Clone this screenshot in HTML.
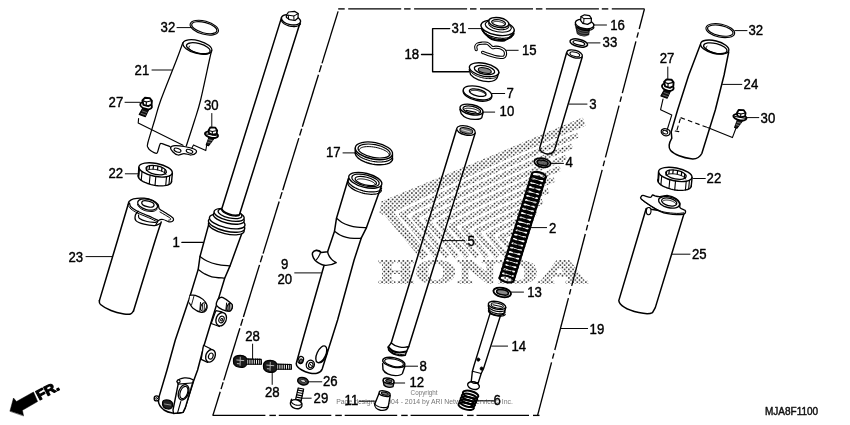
<!DOCTYPE html>
<html><head><meta charset="utf-8"><title>Front fork</title>
<style>
html,body{margin:0;padding:0;background:#fff;}
svg{display:block;will-change:transform;font-family:"Liberation Sans",sans-serif;}
</style></head><body>
<svg width="850" height="425" viewBox="0 0 850 425" fill="none" stroke-linecap="round" stroke-linejoin="round">
<rect x="0" y="0" width="850" height="425" fill="#fff" stroke="none"/>
<text x="410.6" y="395.2" font-size="6.3" fill="#777" stroke="none">Copyright</text>
<text x="336.2" y="403.6" font-size="6.9" fill="#777" stroke="none">Page design © 2004 - 2014 by ARI Network Services, Inc.</text>
<ellipse cx="204.3" cy="27.65" rx="14.6" ry="6.6" transform="rotate(15 204.3 27.65)" stroke="#000" stroke-width="1.12" fill="none" />
<ellipse cx="204.3" cy="27.65" rx="13" ry="5.2" transform="rotate(15 204.3 27.65)" stroke="#000" stroke-width="1.12" fill="none" />
<text transform="translate(160.6 32.1) scale(0.885 1)" font-size="14.9" font-weight="normal" fill="#000" stroke="#000" stroke-width="0.42" text-anchor="start" >32</text>
<line x1="177" y1="27.6" x2="191.5" y2="27.6" stroke="#000" stroke-width="0.98" />
<ellipse cx="197.4" cy="47" rx="14.9" ry="6.4" transform="rotate(15 197.4 47)" stroke="#000" stroke-width="1.25" fill="none" />
<ellipse cx="198.3" cy="48.2" rx="12.2" ry="4.7" transform="rotate(15 198.3 48.2)" stroke="#000" stroke-width="1.25" fill="none" />
<path d="M208.21,53.54 L207.57,53.82 L206.77,54.02 L205.85,54.15 L204.81,54.21 L203.66,54.19 L202.44,54.1 L201.16,53.93 L199.84,53.7 L198.51,53.39 L197.19,53.03 L195.9,52.61 L194.66,52.14 L193.49,51.63 L192.42,51.09 L191.46,50.53 L190.63,49.95 L189.95,49.38 L189.41,48.81 L189.05,48.25 L188.85,47.73 L188.83,47.24 L188.98,46.79 L189.3,46.39 L189.79,46.06" stroke="#000" stroke-width="1" fill="none" />
<path d="M182.9,42.6 C181.83,45.5 180.18,50.43 176.5,60 C172.82,69.57 164.43,90 160.8,100 C157.17,110 156.87,112.83 154.7,120 C152.53,127.17 148.92,138.42 147.8,143 C146.68,147.58 147.55,146.25 148,147.5 C148.45,148.75 149.08,149.52 150.5,150.5 C151.92,151.48 155.22,153.48 156.5,153.4 C157.78,153.32 157.62,151.53 158.2,150 C158.78,148.47 159.37,145.27 160,144.2 C160.63,143.13 160.33,143.2 162,143.6 C163.67,144 168.67,146.1 170,146.6" stroke="#000" stroke-width="1.25" fill="none" />
<path d="M211.6,50.6 C211.23,52.17 211.23,51.77 209.4,60 C207.57,68.23 203.05,90 200.6,100 C198.15,110 197.08,112.33 194.7,120 C192.32,127.67 187.7,141.67 186.3,146" stroke="#000" stroke-width="1.25" fill="none" />
<text transform="translate(134.6 74.7) scale(0.885 1)" font-size="14.9" font-weight="normal" fill="#000" stroke="#000" stroke-width="0.42" text-anchor="start" >21</text>
<line x1="152" y1="70" x2="171.5" y2="70" stroke="#000" stroke-width="0.98" />
<path d="M170.6,147.5 C170.93,146.43 172.77,145.77 175,145.6 C177.23,145.43 180.67,145.85 184,146.5 C187.33,147.15 193,148.45 195,149.5 C197,150.55 196.67,151.88 196,152.8 C195.33,153.72 193,154.88 191,155 C189,155.12 186.17,153.5 184,153.5 C181.83,153.5 179.83,155.25 178,155 C176.17,154.75 174.23,153.25 173,152 C171.77,150.75 170.27,148.57 170.6,147.5 Z" stroke="#000" stroke-width="1.25" fill="none" />
<ellipse cx="177.5" cy="150.2" rx="3.6" ry="1.8" transform="rotate(18 177.5 150.2)" stroke="#000" stroke-width="1.12" fill="none" />
<ellipse cx="189.5" cy="151.3" rx="3.4" ry="1.7" transform="rotate(18 189.5 151.3)" stroke="#000" stroke-width="1.12" fill="none" />
<g transform="translate(146 103)"><path d="M-2.8,4.2 L3,6 L-0.6,13.6 L-6.8,11.4 Z" stroke="#000" stroke-width="1.12" fill="#111" /><line x1="-3.6" y1="8" x2="1" y2="9.6" stroke="#999" stroke-width="0.62" /><line x1="-4.8" y1="10.4" x2="-0.2" y2="12" stroke="#999" stroke-width="0.62" /><ellipse cx="0.1" cy="2.6" rx="6" ry="3.3" transform="rotate(16 0.1 2.6)" stroke="#000" stroke-width="1.88" fill="#fff" /><path d="M-3.6,-2.6 L-1.2,-5.2 L3.8,-4.9 L5.9,-2.2 L5.6,1.6 L2.2,3.2 L-2.6,1.8 Z" stroke="#000" stroke-width="1.88" fill="#fff" /><path d="M-3.4,-2.4 L0.4,-1 L5.6,-2.2" stroke="#000" stroke-width="1.12" fill="none" /><line x1="0.4" y1="-1" x2="0.2" y2="2.6" stroke="#000" stroke-width="1.12" /></g>
<text transform="translate(108.6 107) scale(0.885 1)" font-size="14.9" font-weight="normal" fill="#000" stroke="#000" stroke-width="0.42" text-anchor="start" >27</text>
<line x1="125" y1="102.3" x2="140" y2="102.3" stroke="#000" stroke-width="0.98" />
<path d="M138.6,118.6 L138.2,123 L183,145.3" stroke="#000" stroke-width="1.12" fill="none" />
<g transform="translate(211.8 132.3)"><path d="M-2.6,4.6 L2.2,6 L-3.2,13.4 L-5.6,12.6 Z" stroke="#000" stroke-width="1.12" fill="#222" /><line x1="-3.2" y1="7.4" x2="0.6" y2="8.4" stroke="#aaa" stroke-width="0.62" /><line x1="-4.2" y1="9.8" x2="-1" y2="10.8" stroke="#aaa" stroke-width="0.62" /><ellipse cx="-0.3" cy="2.4" rx="6.7" ry="3.1" transform="rotate(12 -0.3 2.4)" stroke="#000" stroke-width="1.88" fill="#fff" /><line x1="-5.6" y1="1.6" x2="5.4" y2="3.6" stroke="#000" stroke-width="1" /><path d="M-3.2,-2 L-1.4,-5 L3.6,-4.6 L5.4,-1.8 L4.8,1.6 L1,2.4 L-2.8,1 Z" stroke="#000" stroke-width="1.75" fill="#fff" /><path d="M-3,-1.8 L0.6,-0.8 L5.2,-1.8" stroke="#000" stroke-width="1.12" fill="none" /><line x1="0.6" y1="-0.8" x2="0.4" y2="2.2" stroke="#000" stroke-width="1.12" /></g>
<text transform="translate(204 109.5) scale(0.885 1)" font-size="14.9" font-weight="normal" fill="#000" stroke="#000" stroke-width="0.42" text-anchor="start" >30</text>
<line x1="211.8" y1="113.5" x2="211.8" y2="126.5" stroke="#000" stroke-width="0.98" />
<path d="M206.6,145.5 L205.8,150.6 L193.5,144.9 L191.8,148.2" stroke="#000" stroke-width="1.06" fill="none" />
<g transform="translate(155.6 169.9)"><path d="M15.93,11.48 L15.8,12.36 L15.36,13.19 L14.6,13.92 L13.56,14.56 L12.24,15.09 L10.67,15.5 L8.88,15.78 L6.91,15.93 L4.79,15.95 L2.56,15.82 L0.27,15.57 L-2.04,15.18 L-4.33,14.67 L-6.55,14.05 L-8.66,13.33 L-10.62,12.53 L-12.39,11.65 L-13.94,10.72 L-15.24,9.75 L-16.27,8.76 L-17,7.78 L-17.42,6.81 L-17.53,5.89 L-17.32,5.01" stroke="#000" stroke-width="1.38" fill="none" /><line x1="-16.8" y1="-2.4" x2="-17.3" y2="6.2" stroke="#000" stroke-width="1.38" /><line x1="16.8" y1="3.2" x2="15.9" y2="12" stroke="#000" stroke-width="1.38" /><ellipse cx="0" cy="0" rx="17" ry="6.5" transform="rotate(11 0 0)" stroke="#000" stroke-width="1.38" fill="none" /><ellipse cx="0.6" cy="0.2" rx="10.4" ry="4.4" transform="rotate(11 0.6 0.2)" stroke="#000" stroke-width="1.25" fill="none" /><line x1="-16.11" y1="-0.87" x2="-16.91" y2="7.93" stroke="#000" stroke-width="1.12" /><line x1="-13.58" y1="1.62" x2="-14.38" y2="10.42" stroke="#000" stroke-width="1.12" /><line x1="-5.52" y1="5.32" x2="-6.32" y2="14.12" stroke="#000" stroke-width="1.12" /><line x1="0.22" y1="6.64" x2="-0.58" y2="15.44" stroke="#000" stroke-width="1.12" /><line x1="10.92" y1="6.81" x2="10.12" y2="15.61" stroke="#000" stroke-width="1.12" /><line x1="14.15" y1="5.86" x2="13.35" y2="14.66" stroke="#000" stroke-width="1.12" /><line x1="-8.71" y1="-2.84" x2="-9.11" y2="0.46" stroke="#000" stroke-width="1.25" /><line x1="-6.03" y1="-3.96" x2="-6.43" y2="-0.66" stroke="#000" stroke-width="1.25" /><line x1="-2.1" y1="-4.24" x2="-2.5" y2="-0.94" stroke="#000" stroke-width="1.25" /><line x1="2.33" y1="-3.63" x2="1.93" y2="-0.33" stroke="#000" stroke-width="1.25" /><line x1="6.43" y1="-2.25" x2="6.03" y2="1.05" stroke="#000" stroke-width="1.25" /><line x1="9.44" y1="-0.35" x2="9.04" y2="2.95" stroke="#000" stroke-width="1.25" /><path d="M-8.95,0.91 L-8.61,0.56 L-8.14,0.25 L-7.56,-0.02 L-6.86,-0.24 L-6.07,-0.41 L-5.18,-0.53 L-4.22,-0.6 L-3.19,-0.61 L-2.11,-0.57 L-1,-0.48 L0.14,-0.33 L1.29,-0.13 L2.42,0.11 L3.53,0.4 L4.6,0.73 L5.62,1.1 L6.57,1.5 L7.44,1.92 L8.21,2.36 L8.88,2.82 L9.44,3.29 L9.89,3.75 L10.2,4.21 L10.39,4.67" stroke="#000" stroke-width="1" fill="none" /></g>
<text transform="translate(108.4 178) scale(0.885 1)" font-size="14.9" font-weight="normal" fill="#000" stroke="#000" stroke-width="0.42" text-anchor="start" >22</text>
<line x1="125.3" y1="173.8" x2="138.8" y2="173.8" stroke="#000" stroke-width="0.98" />
<path d="M128.2,204.3 C126.43,210.25 122.4,223.95 117.6,240 C112.8,256.05 102.43,290.5 99.4,300.6" stroke="#000" stroke-width="1.5" fill="none" />
<path d="M161.2,222 C160.22,225 159.92,225.17 155.3,240 C150.68,254.83 137.13,299.17 133.5,311" stroke="#000" stroke-width="1.5" fill="none" />
<path d="M99.4,300.6 C99.58,301.25 98.57,302.85 100.5,304.5 C102.43,306.15 107.08,308.92 111,310.5 C114.92,312.08 120.75,313.42 124,314 C127.25,314.58 128.92,314.5 130.5,314 C132.08,313.5 133,311.5 133.5,311" stroke="#000" stroke-width="1.5" fill="none" />
<path d="M128.2,204.5 C128.33,204 128.12,202.45 129,201.5 C129.88,200.55 130.98,199.35 133.5,198.8 C136.02,198.25 140.85,197.92 144.1,198.2 C147.35,198.48 150.68,199.45 153,200.5 C155.32,201.55 156.93,203.12 158,204.5 C159.07,205.88 158.23,207.47 159.4,208.8 C160.57,210.13 163.03,211.22 165,212.5 C166.97,213.78 169.78,215.45 171.2,216.5 C172.62,217.55 173.28,218 173.5,218.8 C173.72,219.6 173.25,220.8 172.5,221.3 C171.75,221.8 170.58,222.1 169,221.8 C167.42,221.5 164.75,219.72 163,219.5 C161.25,219.28 159.67,219.67 158.5,220.5 C157.33,221.33 156.42,223.83 156,224.5" stroke="#000" stroke-width="1.25" fill="none" />
<path d="M129.5,203 C129.75,203.67 129.75,205.67 131,207 C132.25,208.33 134.67,209.75 137,211 C139.33,212.25 142.5,213.42 145,214.5 C147.5,215.58 149.83,216.5 152,217.5 C154.17,218.5 157,220 158,220.5" stroke="#000" stroke-width="1.25" fill="none" />
<path d="M128.6,206 C129,206.5 129.6,207.87 131,209 C132.4,210.13 134.67,211.6 137,212.8 C139.33,214 142.5,215.13 145,216.2 C147.5,217.27 149.92,218.23 152,219.2 C154.08,220.17 156.58,221.53 157.5,222" stroke="#000" stroke-width="1" fill="none" />
<path d="M160,212 C160.92,212.53 163.83,214.2 165.5,215.2 C167.17,216.2 169.15,217.27 170,218 C170.85,218.73 170.83,219.23 170.6,219.6 C170.37,219.97 168.93,220.1 168.6,220.2" stroke="#000" stroke-width="1" fill="none" />
<ellipse cx="147.6" cy="204.5" rx="10.2" ry="5.2" transform="rotate(14 147.6 204.5)" stroke="#000" stroke-width="1.25" fill="none" />
<path d="M157.13,209.21 L156.72,209.71 L156.19,210.16 L155.54,210.56 L154.79,210.89 L153.94,211.16 L153,211.35 L151.99,211.47 L150.92,211.52 L149.8,211.49 L148.66,211.38 L147.5,211.2 L146.34,210.95 L145.2,210.62 L144.09,210.24 L143.03,209.8 L142.03,209.3 L141.11,208.76 L140.27,208.18 L139.54,207.57 L138.91,206.93 L138.4,206.29 L138.01,205.63 L137.76,204.98 L137.63,204.35" stroke="#000" stroke-width="1" fill="none" />
<ellipse cx="147.9" cy="203.9" rx="6.3" ry="2.9" transform="rotate(14 147.9 203.9)" stroke="#000" stroke-width="1.25" fill="none" />
<path d="M138.2,211.2 C137.72,211.88 135.68,213.73 135.3,215.3 C134.92,216.87 134.45,219.12 135.9,220.6 C137.35,222.08 140.87,223.37 144,224.2 C147.13,225.03 152.03,225.72 154.7,225.6 C157.37,225.48 159.12,223.85 160,223.5" stroke="#000" stroke-width="1.25" fill="none" />
<path d="M138.5,215 C138.67,215.58 138.08,217.42 139.5,218.5 C140.92,219.58 144.25,220.83 147,221.5 C149.75,222.17 154.5,222.33 156,222.5" stroke="#000" stroke-width="1.12" fill="none" />
<text transform="translate(68.5 261.9) scale(0.885 1)" font-size="14.9" font-weight="normal" fill="#000" stroke="#000" stroke-width="0.42" text-anchor="start" >23</text>
<line x1="86" y1="256.6" x2="112.3" y2="256.6" stroke="#000" stroke-width="0.98" />
<path d="M10,410.9 L13.5,398 L16.5,401.5 L33.5,392 L37.6,401.5 L22.4,410.3 L23.5,415.6 Z" stroke="#000" stroke-width="0.5" fill="#000" />
<text transform="translate(39.2 400.4) rotate(-28) scale(1.06 1)" font-size="14" font-weight="bold" fill="#000" stroke="#000" stroke-width="1.1">FR.</text>
<text transform="translate(765.0 414.8) scale(0.945 1)" font-size="10.6" fill="#111" stroke="#111" stroke-width="0.45">MJA8F1100</text>
<line x1="338.2" y1="8.9" x2="344.7" y2="8.9" stroke="#000" stroke-width="1.35" stroke-linecap="butt"/><line x1="348.2" y1="8.9" x2="401.2" y2="8.9" stroke="#000" stroke-width="1.35" stroke-linecap="butt"/><line x1="404.1" y1="8.9" x2="410.6" y2="8.9" stroke="#000" stroke-width="1.35" stroke-linecap="butt"/><line x1="414.1" y1="8.9" x2="467.1" y2="8.9" stroke="#000" stroke-width="1.35" stroke-linecap="butt"/><line x1="470" y1="8.9" x2="476.5" y2="8.9" stroke="#000" stroke-width="1.35" stroke-linecap="butt"/><line x1="480" y1="8.9" x2="533" y2="8.9" stroke="#000" stroke-width="1.35" stroke-linecap="butt"/><line x1="535.9" y1="8.9" x2="542.4" y2="8.9" stroke="#000" stroke-width="1.35" stroke-linecap="butt"/><line x1="545.9" y1="8.9" x2="598.9" y2="8.9" stroke="#000" stroke-width="1.35" stroke-linecap="butt"/><line x1="601.8" y1="8.9" x2="608.3" y2="8.9" stroke="#000" stroke-width="1.35" stroke-linecap="butt"/><line x1="611.8" y1="8.9" x2="644.6" y2="8.9" stroke="#000" stroke-width="1.35" stroke-linecap="butt"/>
<line x1="338.1" y1="11.4" x2="321.99" y2="63.4" stroke="#000" stroke-width="1.35" stroke-linecap="butt"/><line x1="321.4" y1="65.3" x2="319.29" y2="72.1" stroke="#000" stroke-width="1.35" stroke-linecap="butt"/><line x1="318.48" y1="74.7" x2="302.34" y2="126.8" stroke="#000" stroke-width="1.35" stroke-linecap="butt"/><line x1="301.75" y1="128.7" x2="299.64" y2="135.5" stroke="#000" stroke-width="1.35" stroke-linecap="butt"/><line x1="298.84" y1="138.1" x2="282.69" y2="190.2" stroke="#000" stroke-width="1.35" stroke-linecap="butt"/><line x1="282.1" y1="192.1" x2="279.99" y2="198.9" stroke="#000" stroke-width="1.35" stroke-linecap="butt"/><line x1="279.19" y1="201.5" x2="263.04" y2="253.6" stroke="#000" stroke-width="1.35" stroke-linecap="butt"/><line x1="262.45" y1="255.5" x2="260.35" y2="262.3" stroke="#000" stroke-width="1.35" stroke-linecap="butt"/><line x1="259.54" y1="264.9" x2="243.39" y2="317" stroke="#000" stroke-width="1.35" stroke-linecap="butt"/><line x1="242.81" y1="318.9" x2="240.7" y2="325.7" stroke="#000" stroke-width="1.35" stroke-linecap="butt"/><line x1="239.89" y1="328.3" x2="223.75" y2="380.4" stroke="#000" stroke-width="1.35" stroke-linecap="butt"/><line x1="223.16" y1="382.3" x2="221.05" y2="389.1" stroke="#000" stroke-width="1.35" stroke-linecap="butt"/><line x1="220.24" y1="391.7" x2="212.9" y2="415.4" stroke="#000" stroke-width="1.35" stroke-linecap="butt"/>
<line x1="212.6" y1="415.4" x2="265.4" y2="415.4" stroke="#000" stroke-width="1.35" stroke-linecap="butt"/><line x1="269.4" y1="415.4" x2="275.9" y2="415.4" stroke="#000" stroke-width="1.35" stroke-linecap="butt"/><line x1="278.8" y1="415.4" x2="331.3" y2="415.4" stroke="#000" stroke-width="1.35" stroke-linecap="butt"/><line x1="335.3" y1="415.4" x2="341.8" y2="415.4" stroke="#000" stroke-width="1.35" stroke-linecap="butt"/><line x1="344.7" y1="415.4" x2="397.2" y2="415.4" stroke="#000" stroke-width="1.35" stroke-linecap="butt"/><line x1="401.2" y1="415.4" x2="407.7" y2="415.4" stroke="#000" stroke-width="1.35" stroke-linecap="butt"/><line x1="410.6" y1="415.4" x2="463.1" y2="415.4" stroke="#000" stroke-width="1.35" stroke-linecap="butt"/><line x1="467.1" y1="415.4" x2="473.6" y2="415.4" stroke="#000" stroke-width="1.35" stroke-linecap="butt"/><line x1="476.5" y1="415.4" x2="529" y2="415.4" stroke="#000" stroke-width="1.35" stroke-linecap="butt"/><line x1="533" y1="415.4" x2="539.5" y2="415.4" stroke="#000" stroke-width="1.35" stroke-linecap="butt"/>
<line x1="644.4" y1="9.2" x2="639.19" y2="29" stroke="#000" stroke-width="1.35" stroke-linecap="butt"/><line x1="638.33" y1="32.3" x2="636.91" y2="37.7" stroke="#000" stroke-width="1.35" stroke-linecap="butt"/><line x1="635.93" y1="41.4" x2="622.31" y2="93.2" stroke="#000" stroke-width="1.35" stroke-linecap="butt"/><line x1="621.45" y1="96.5" x2="620.03" y2="101.9" stroke="#000" stroke-width="1.35" stroke-linecap="butt"/><line x1="619.05" y1="105.6" x2="605.43" y2="157.4" stroke="#000" stroke-width="1.35" stroke-linecap="butt"/><line x1="604.57" y1="160.7" x2="603.15" y2="166.1" stroke="#000" stroke-width="1.35" stroke-linecap="butt"/><line x1="602.17" y1="169.8" x2="588.55" y2="221.6" stroke="#000" stroke-width="1.35" stroke-linecap="butt"/><line x1="587.69" y1="224.9" x2="586.27" y2="230.3" stroke="#000" stroke-width="1.35" stroke-linecap="butt"/><line x1="585.29" y1="234" x2="571.68" y2="285.8" stroke="#000" stroke-width="1.35" stroke-linecap="butt"/><line x1="570.81" y1="289.1" x2="569.39" y2="294.5" stroke="#000" stroke-width="1.35" stroke-linecap="butt"/><line x1="568.41" y1="298.2" x2="554.8" y2="350" stroke="#000" stroke-width="1.35" stroke-linecap="butt"/><line x1="553.93" y1="353.3" x2="552.51" y2="358.7" stroke="#000" stroke-width="1.35" stroke-linecap="butt"/><line x1="551.54" y1="362.4" x2="537.6" y2="415.4" stroke="#000" stroke-width="1.35" stroke-linecap="butt"/>
<path d="M208.8,224.1 L200,256.5 L198.2,269.4 L188.8,300 L175.3,340 L167,370 L158.8,397.6 C157.5,402 159,406 164,410 C168,412.5 176,414.6 183,412.4 L185.3,407.6 L193.5,381.2 L197.6,370 L204.1,345.3 L211.8,320 L218.8,297.6 L224.7,278.2 L230,265.9 L241.8,233.5 Z" stroke="#000" stroke-width="1.5" fill="#fff" />
<path d="M200,256.5 C201.17,257.25 204.17,259.7 207,261 C209.83,262.3 213.17,263.48 217,264.3 C220.83,265.12 227.83,265.63 230,265.9" stroke="#000" stroke-width="1.25" fill="none" />
<path d="M198.2,269.4 C199.17,270.08 201.73,272.27 204,273.5 C206.27,274.73 208.38,276.02 211.8,276.8 C215.22,277.58 222.38,277.97 224.5,278.2" stroke="#000" stroke-width="1.25" fill="none" />
<ellipse cx="226.3" cy="227.2" rx="18.3" ry="6.6" transform="rotate(13 226.3 227.2)" stroke="#000" stroke-width="1.38" fill="#fff" />
<ellipse cx="226.6" cy="224.6" rx="18.6" ry="6.6" transform="rotate(13 226.6 224.6)" stroke="#000" stroke-width="1.38" fill="#fff" />
<ellipse cx="227.2" cy="221.4" rx="18.2" ry="6.4" transform="rotate(13 227.2 221.4)" stroke="#000" stroke-width="1.38" fill="#fff" />
<ellipse cx="228.8" cy="217.6" rx="15.8" ry="5.8" transform="rotate(13 228.8 217.6)" stroke="#000" stroke-width="1.38" fill="#fff" />
<ellipse cx="229.1" cy="214.9" rx="15.4" ry="5.6" transform="rotate(13 229.1 214.9)" stroke="#000" stroke-width="1.38" fill="#fff" />
<ellipse cx="230" cy="213.6" rx="12.2" ry="4.4" transform="rotate(13 230 213.6)" stroke="#000" stroke-width="1.25" fill="#fff" />
<path d="M281.5,17.6 L221.8,208.8 C224,213 233,216.5 239.4,214.7 L300,22.9 Z" stroke="#000" stroke-width="1.5" fill="#fff" />
<path d="M239.49,214.62 L239.29,215.01 L238.94,215.34 L238.45,215.62 L237.82,215.83 L237.07,215.98 L236.21,216.05 L235.25,216.06 L234.21,215.99 L233.11,215.86 L231.97,215.65 L230.8,215.38 L229.64,215.06 L228.48,214.67 L227.37,214.24 L226.31,213.78 L225.32,213.27 L224.42,212.75 L223.63,212.21 L222.96,211.66 L222.42,211.12 L222.01,210.6 L221.76,210.09 L221.66,209.62 L221.71,209.18" stroke="#000" stroke-width="1.25" fill="none" />
<ellipse cx="291" cy="19.8" rx="9.8" ry="4.9" transform="rotate(12.5 291 19.8)" stroke="#000" stroke-width="1.38" fill="#fff" />
<path d="M300.44,23.83 L300.13,24.38 L299.69,24.87 L299.11,25.32 L298.41,25.7 L297.6,26.02 L296.68,26.26 L295.68,26.43 L294.61,26.52 L293.48,26.53 L292.31,26.46 L291.13,26.31 L289.94,26.08 L288.77,25.79 L287.63,25.42 L286.54,24.99 L285.53,24.5 L284.59,23.97 L283.75,23.39 L283.03,22.79 L282.42,22.16 L281.95,21.51 L281.61,20.87 L281.42,20.23 L281.38,19.6" stroke="#000" stroke-width="1.25" fill="none" />
<path d="M286.2,15.5 L288.5,12 L294.5,11.3 L298.2,13.6 L298,18 L295,20.5 L289.5,19.6 L286.5,17.6 Z" stroke="#000" stroke-width="1.25" fill="#fff" />
<path d="M288.3,15.2 L293.8,16 L298,13.8" stroke="#000" stroke-width="1" fill="none" />
<line x1="293.8" y1="16" x2="294" y2="20.2" stroke="#000" stroke-width="1" />
<path d="M286.4,15.6 L288.3,15.2 L288.6,19.4" stroke="#000" stroke-width="1" fill="none" />
<path d="M190,295.3 C190.88,295.3 193.13,294.62 195.3,295.3 C197.47,295.98 201.05,297.73 203,299.4 C204.95,301.07 206.52,303.43 207,305.3 C207.48,307.17 206.87,309.42 205.9,310.6 C204.93,311.78 203.35,312.8 201.2,312.4 C199.05,312 194.97,309.77 193,308.2 C191.03,306.63 190,303.87 189.4,303" stroke="#000" stroke-width="1.25" fill="#fff" />
<ellipse cx="203.6" cy="307" rx="2.8" ry="4.3" transform="rotate(20 203.6 307)" stroke="#000" stroke-width="1" fill="#fff" />
<line x1="202.6" y1="304.5" x2="202.2" y2="309.8" stroke="#000" stroke-width="0.88" />
<line x1="204.4" y1="304.2" x2="204.2" y2="310" stroke="#000" stroke-width="0.88" />
<line x1="200.5" y1="302.5" x2="199.8" y2="311.3" stroke="#000" stroke-width="1" />
<line x1="194" y1="296" x2="191.5" y2="305" stroke="#000" stroke-width="0.88" />
<path d="M217.6,300 C218.13,298.92 218.6,298.4 219.5,298 C220.4,297.6 221.15,296.77 223,297.6 C224.85,298.43 229.03,301.52 230.6,303 C232.17,304.48 232.4,305.23 232.4,306.5 C232.4,307.77 231.68,309.88 230.6,310.6 C229.52,311.32 227.87,311.3 225.9,310.8 C223.93,310.3 220.4,308.65 218.8,307.6 C217.2,306.55 216.5,305.77 216.3,304.5 C216.1,303.23 217.07,301.08 217.6,300 Z" stroke="#000" stroke-width="1.38" fill="#fff" />
<ellipse cx="229.6" cy="307.2" rx="2.6" ry="4" transform="rotate(20 229.6 307.2)" stroke="#000" stroke-width="1.12" fill="#999" />
<line x1="229.4" y1="304.4" x2="229" y2="310" stroke="#000" stroke-width="1" />
<line x1="226.6" y1="303" x2="225.8" y2="310.6" stroke="#000" stroke-width="1" />
<path d="M215.9,310.6 L221.8,311.8 L219.4,326.5 L211.2,323.5 Z" stroke="#000" stroke-width="1.25" fill="#fff" />
<ellipse cx="221.2" cy="319.2" rx="5" ry="6.9" transform="rotate(22 221.2 319.2)" stroke="#000" stroke-width="1.38" fill="#fff" />
<ellipse cx="221.5" cy="319.5" rx="2.5" ry="3.4" transform="rotate(22 221.5 319.5)" stroke="#000" stroke-width="1.12" fill="none" />
<ellipse cx="221.6" cy="319.7" rx="0.9" ry="1.3" transform="rotate(22 221.6 319.7)" stroke="#000" stroke-width="1" fill="none" />
<path d="M203.5,345.3 L210.6,348.8 L207.6,362.4 L201.2,359.4 Z" stroke="#000" stroke-width="1.25" fill="#fff" />
<ellipse cx="210.5" cy="355.8" rx="4.6" ry="6.5" transform="rotate(22 210.5 355.8)" stroke="#000" stroke-width="1.38" fill="#fff" />
<ellipse cx="210.8" cy="356.1" rx="2.2" ry="3.1" transform="rotate(22 210.8 356.1)" stroke="#000" stroke-width="1.12" fill="none" />
<path d="M177,381.5 C180,377.5 188,376.5 193.5,380 L185.3,407.6 L183,412.4 L173.5,413.5 L173,410 L178.2,384 Z" stroke="#000" stroke-width="1.38" fill="#fff" />
<path d="M178.2,384.2 L191.5,383" stroke="#000" stroke-width="1.25" fill="none" />
<path d="M180.8,401.5 L177.6,412.6" stroke="#000" stroke-width="1.12" fill="none" />
<ellipse cx="183.6" cy="392.3" rx="4.9" ry="8" transform="rotate(20 183.6 392.3)" stroke="#000" stroke-width="1.38" fill="#fff" />
<ellipse cx="183.9" cy="392.5" rx="3.6" ry="6.4" transform="rotate(20 183.9 392.5)" stroke="#000" stroke-width="1.12" fill="none" />
<ellipse cx="178.6" cy="381.4" rx="1.5" ry="1.5" transform="rotate(0 178.6 381.4)" stroke="#000" stroke-width="1.12" fill="#fff" />
<ellipse cx="156.6" cy="398.4" rx="2.4" ry="2.5" transform="rotate(0 156.6 398.4)" stroke="#000" stroke-width="1.38" fill="#fff" />
<ellipse cx="156.6" cy="398.4" rx="0.9" ry="0.9" transform="rotate(0 156.6 398.4)" stroke="#000" stroke-width="0.88" fill="none" />
<path d="M162.6,402 C162.83,400.83 163.77,400.23 165,400 C166.23,399.77 168.73,400.02 170,400.6 C171.27,401.18 172.33,402.3 172.6,403.5 C172.87,404.7 172.37,406.88 171.6,407.8 C170.83,408.72 169.33,409.13 168,409 C166.67,408.87 164.5,408.17 163.6,407 C162.7,405.83 162.37,403.17 162.6,402 Z" stroke="#000" stroke-width="1.25" fill="#222" />
<line x1="164.5" y1="404" x2="170.5" y2="405" stroke="#bbb" stroke-width="0.75" />
<text transform="translate(172.6 246.5) scale(0.885 1)" font-size="14.9" font-weight="normal" fill="#000" stroke="#000" stroke-width="0.42" text-anchor="start" >1</text>
<line x1="181.8" y1="242.4" x2="203" y2="242.4" stroke="#000" stroke-width="1.12" />
<path d="M392.5,158.35 L392.47,159.53 L392.05,160.64 L391.27,161.65 L390.14,162.55 L388.68,163.32 L386.92,163.93 L384.89,164.39 L382.64,164.68 L380.22,164.79 L377.66,164.72 L375.03,164.47 L372.38,164.06 L369.75,163.48 L367.22,162.75 L364.81,161.88 L362.59,160.89 L360.6,159.8 L358.89,158.64 L357.47,157.42 L356.39,156.17 L355.66,154.92 L355.3,153.7 L355.32,152.51 L355.72,151.4" stroke="#000" stroke-width="1.38" fill="none" />
<path d="M392.47,156.71 L392.11,157.73 L391.44,158.67 L390.48,159.53 L389.22,160.27 L387.71,160.89 L385.96,161.38 L384,161.73 L381.87,161.93 L379.6,161.99 L377.24,161.89 L374.81,161.65 L372.38,161.26 L369.97,160.73 L367.62,160.07 L365.39,159.3 L363.3,158.42 L361.39,157.46 L359.69,156.42 L358.24,155.32 L357.06,154.19 L356.16,153.04 L355.57,151.9 L355.29,150.77 L355.33,149.69" stroke="#000" stroke-width="1.12" fill="none" />
<line x1="355.3" y1="148.2" x2="355.4" y2="153.4" stroke="#000" stroke-width="1.38" />
<line x1="392.5" y1="154.8" x2="392.4" y2="160" stroke="#000" stroke-width="1.38" />
<ellipse cx="373.9" cy="150.8" rx="18.9" ry="8.3" transform="rotate(10.7 373.9 150.8)" stroke="#000" stroke-width="1.38" fill="#fff" />
<ellipse cx="374.1" cy="151" rx="16.3" ry="6.4" transform="rotate(10.7 374.1 151)" stroke="#000" stroke-width="1.25" fill="none" />
<path d="M359.51,149.33 L359.91,148.73 L360.52,148.19 L361.35,147.72 L362.37,147.33 L363.58,147.01 L364.95,146.78 L366.46,146.64 L368.09,146.59 L369.82,146.63 L371.62,146.76 L373.45,146.99 L375.3,147.29 L377.14,147.68 L378.93,148.15 L380.65,148.68 L382.27,149.27 L383.77,149.91 L385.13,150.59 L386.32,151.31 L387.33,152.04 L388.14,152.78 L388.74,153.52 L389.11,154.25 L389.27,154.95" stroke="#000" stroke-width="1" fill="none" />
<text transform="translate(326 157.3) scale(0.885 1)" font-size="14.9" font-weight="normal" fill="#000" stroke="#000" stroke-width="0.42" text-anchor="start" >17</text>
<line x1="343" y1="152.9" x2="355.3" y2="152.9" stroke="#000" stroke-width="0.98" />
<path d="M348.4,178.5 L336.5,218.2 L334.5,231.2 L327.6,251.8 L321.2,252.4 C318,250 314.5,249.6 312.6,252.6 C311.6,256 314.5,260.5 317.6,262.4 C321,264.5 323,265.3 324.1,265.3 L304.1,335.3 L296.5,362.4 C295.5,365.5 298,368 301.8,370 C306,372.5 313,374.2 317,373.2 C320,372.5 321.5,371 322.2,369 L337.6,320 L354.1,260 L361.2,238.2 L366.5,227.6 L381.4,186 Z" stroke="#000" stroke-width="1.5" fill="#fff" />
<path d="M327.6,251.8 C328.5,256 331,260 336.2,262.6 C333,264.5 328,265.6 324.1,265.3" stroke="#000" stroke-width="1.38" fill="#fff" />
<path d="M315.9,250 C319,250 320.8,251 320.6,252.2 C319.5,255.5 318,258 316.5,259.6" stroke="#000" stroke-width="1.12" fill="none" />
<path d="M336.5,218.2 C337.42,218.92 339.95,221.32 342,222.5 C344.05,223.68 346.3,224.52 348.8,225.3 C351.3,226.08 354.05,226.82 357,227.2 C359.95,227.58 364.92,227.53 366.5,227.6" stroke="#000" stroke-width="1.25" fill="none" />
<path d="M334.5,231.2 C335.42,231.83 338,233.97 340,235 C342,236.03 344.17,236.83 346.5,237.4 C348.83,237.97 351.55,238.27 354,238.4 C356.45,238.53 360,238.23 361.2,238.2" stroke="#000" stroke-width="1.25" fill="none" />
<path d="M381.39,190.49 L381.02,191.34 L380.38,192.1 L379.46,192.77 L378.29,193.32 L376.89,193.76 L375.27,194.06 L373.48,194.24 L371.53,194.27 L369.46,194.18 L367.31,193.94 L365.11,193.58 L362.91,193.09 L360.73,192.49 L358.62,191.78 L356.61,190.97 L354.74,190.09 L353.04,189.14 L351.53,188.14 L350.25,187.11 L349.22,186.07 L348.44,185.03 L347.95,184.02 L347.74,183.04 L347.81,182.11" stroke="#000" stroke-width="1.25" fill="none" />
<path d="M381.59,188.16 L381.23,189.01 L380.58,189.78 L379.67,190.44 L378.51,191 L377.11,191.44 L375.5,191.75 L373.72,191.92 L371.78,191.96 L369.72,191.87 L367.58,191.64 L365.4,191.28 L363.21,190.79 L361.04,190.19 L358.94,189.48 L356.95,188.68 L355.09,187.8 L353.4,186.86 L351.9,185.86 L350.63,184.83 L349.6,183.79 L348.83,182.75 L348.34,181.74 L348.13,180.76 L348.21,179.84" stroke="#000" stroke-width="1.25" fill="none" />
<ellipse cx="365.3" cy="180.3" rx="17" ry="7" transform="rotate(14 365.3 180.3)" stroke="#000" stroke-width="1.38" fill="#fff" />
<ellipse cx="365.5" cy="180.4" rx="14" ry="5.5" transform="rotate(14 365.5 180.4)" stroke="#000" stroke-width="1.25" fill="none" />
<ellipse cx="365.8" cy="181" rx="11" ry="3.9" transform="rotate(14 365.8 181)" stroke="#000" stroke-width="1.12" fill="none" />
<path d="M357.05,179.83 L357.38,179.56 L357.82,179.34 L358.38,179.15 L359.04,179.02 L359.79,178.93 L360.63,178.89 L361.54,178.91 L362.51,178.97 L363.53,179.08 L364.58,179.24 L365.65,179.44 L366.73,179.69 L367.79,179.98 L368.83,180.3 L369.83,180.65 L370.79,181.03 L371.67,181.43 L372.48,181.85 L373.2,182.27 L373.83,182.71 L374.35,183.13 L374.75,183.56 L375.04,183.97 L375.2,184.36" stroke="#000" stroke-width="1" fill="none" />
<ellipse cx="321.3" cy="354.3" rx="4.4" ry="9" transform="rotate(25 321.3 354.3)" stroke="#000" stroke-width="1.38" fill="none" />
<path d="M327.23,349.52 L327.32,350.07 L327.36,350.66 L327.35,351.3 L327.29,351.98 L327.18,352.7 L327.02,353.44 L326.82,354.2 L326.57,354.97 L326.29,355.74 L325.96,356.5 L325.6,357.26 L325.21,357.99 L324.79,358.69 L324.35,359.36 L323.89,359.98 L323.42,360.55 L322.94,361.07 L322.46,361.53 L321.97,361.92 L321.5,362.25 L321.03,362.49 L320.58,362.67 L320.16,362.76 L319.75,362.78" stroke="#000" stroke-width="1.12" fill="none" />
<ellipse cx="300.8" cy="360" rx="2.6" ry="3.6" transform="rotate(18 300.8 360)" stroke="#000" stroke-width="1.25" fill="none" />
<ellipse cx="300.9" cy="361" rx="1.5" ry="2" transform="rotate(18 300.9 361)" stroke="#000" stroke-width="1" fill="#666" />
<ellipse cx="310.3" cy="364.7" rx="4" ry="4.6" transform="rotate(18 310.3 364.7)" stroke="#000" stroke-width="1.38" fill="none" />
<ellipse cx="310.8" cy="365" rx="2.2" ry="2.7" transform="rotate(18 310.8 365)" stroke="#000" stroke-width="1.12" fill="none" />
<line x1="309.6" y1="363.5" x2="312" y2="366.5" stroke="#000" stroke-width="1" />
<text transform="translate(281 269.3) scale(0.885 1)" font-size="14.9" font-weight="normal" fill="#000" stroke="#000" stroke-width="0.42" text-anchor="start" >9</text>
<text transform="translate(277.4 284.1) scale(0.885 1)" font-size="14.9" font-weight="normal" fill="#000" stroke="#000" stroke-width="0.42" text-anchor="start" >20</text>
<line x1="294.7" y1="272.9" x2="321.2" y2="272.9" stroke="#000" stroke-width="0.98" />
<g transform="translate(233.8 361.2)"><path d="M0.3,-3.5 C1.02,-4.43 2.47,-5.28 4,-5.6 C5.53,-5.92 8.03,-5.87 9.5,-5.4 C10.97,-4.93 12.22,-4.13 12.8,-2.8 C13.38,-1.47 13.38,1.2 13,2.6 C12.62,4 11.92,5.07 10.5,5.6 C9.08,6.13 6.17,6.17 4.5,5.8 C2.83,5.43 1.3,4.37 0.5,3.4 C-0.3,2.43 -0.27,1.15 -0.3,0 C-0.33,-1.15 -0.42,-2.57 0.3,-3.5 Z" stroke="#000" stroke-width="1.25" fill="#1a1a1a" /><line x1="3" y1="-1.2" x2="10" y2="-0.6" stroke="#ccc" stroke-width="0.88" /><line x1="6.5" y1="-4" x2="6.3" y2="4.2" stroke="#bbb" stroke-width="0.88" /><line x1="3.5" y1="2.4" x2="5.5" y2="2.6" stroke="#ccc" stroke-width="0.88" /><path d="M13,-2.3 L27.5,-1.8 L27.7,3 L13,3 Z" stroke="#000" stroke-width="1.12" fill="#fff" /><line x1="15" y1="-2" x2="15" y2="2.9" stroke="#000" stroke-width="1.25" /><line x1="17.2" y1="-2" x2="17.2" y2="2.9" stroke="#000" stroke-width="1.25" /><line x1="19.4" y1="-2" x2="19.4" y2="2.9" stroke="#000" stroke-width="1.25" /><line x1="21.6" y1="-2" x2="21.6" y2="2.9" stroke="#000" stroke-width="1.25" /><line x1="23.8" y1="-2" x2="23.8" y2="2.9" stroke="#000" stroke-width="1.25" /><line x1="26" y1="-2" x2="26" y2="2.9" stroke="#000" stroke-width="1.25" /></g>
<g transform="translate(263.8 366.3)"><path d="M0.3,-3.5 C1.02,-4.43 2.47,-5.28 4,-5.6 C5.53,-5.92 8.03,-5.87 9.5,-5.4 C10.97,-4.93 12.22,-4.13 12.8,-2.8 C13.38,-1.47 13.38,1.2 13,2.6 C12.62,4 11.92,5.07 10.5,5.6 C9.08,6.13 6.17,6.17 4.5,5.8 C2.83,5.43 1.3,4.37 0.5,3.4 C-0.3,2.43 -0.27,1.15 -0.3,0 C-0.33,-1.15 -0.42,-2.57 0.3,-3.5 Z" stroke="#000" stroke-width="1.25" fill="#1a1a1a" /><line x1="3" y1="-1.2" x2="10" y2="-0.6" stroke="#ccc" stroke-width="0.88" /><line x1="6.5" y1="-4" x2="6.3" y2="4.2" stroke="#bbb" stroke-width="0.88" /><line x1="3.5" y1="2.4" x2="5.5" y2="2.6" stroke="#ccc" stroke-width="0.88" /><path d="M13,-2.3 L27.5,-1.8 L27.7,3 L13,3 Z" stroke="#000" stroke-width="1.12" fill="#fff" /><line x1="15" y1="-2" x2="15" y2="2.9" stroke="#000" stroke-width="1.25" /><line x1="17.2" y1="-2" x2="17.2" y2="2.9" stroke="#000" stroke-width="1.25" /><line x1="19.4" y1="-2" x2="19.4" y2="2.9" stroke="#000" stroke-width="1.25" /><line x1="21.6" y1="-2" x2="21.6" y2="2.9" stroke="#000" stroke-width="1.25" /><line x1="23.8" y1="-2" x2="23.8" y2="2.9" stroke="#000" stroke-width="1.25" /><line x1="26" y1="-2" x2="26" y2="2.9" stroke="#000" stroke-width="1.25" /></g>
<text transform="translate(245.2 340.5) scale(0.885 1)" font-size="14.9" font-weight="normal" fill="#000" stroke="#000" stroke-width="0.42" text-anchor="start" >28</text>
<line x1="252.6" y1="344.1" x2="252.6" y2="358.8" stroke="#000" stroke-width="0.98" />
<text transform="translate(265 396.9) scale(0.885 1)" font-size="14.9" font-weight="normal" fill="#000" stroke="#000" stroke-width="0.42" text-anchor="start" >28</text>
<line x1="272.2" y1="372" x2="272.2" y2="384.4" stroke="#000" stroke-width="0.98" />
<ellipse cx="303" cy="381.2" rx="5.4" ry="3.6" transform="rotate(14 303 381.2)" stroke="#000" stroke-width="1.5" fill="#444" />
<ellipse cx="303.3" cy="381" rx="2.6" ry="1.4" transform="rotate(14 303.3 381)" stroke="#222" stroke-width="0.88" fill="#ddd" />
<text transform="translate(323 385.7) scale(0.885 1)" font-size="14.9" font-weight="normal" fill="#000" stroke="#000" stroke-width="0.42" text-anchor="start" >26</text>
<line x1="308.8" y1="381.8" x2="321.8" y2="381.8" stroke="#000" stroke-width="0.98" />
<path d="M298.2,388 L303.6,389 L301,401.5 L295.4,400.4 Z" stroke="#000" stroke-width="1.25" fill="#fff" />
<line x1="298.3" y1="390.2" x2="303.2" y2="391.2" stroke="#000" stroke-width="1.25" />
<line x1="297.75" y1="392.5" x2="302.65" y2="393.5" stroke="#000" stroke-width="1.25" />
<line x1="297.2" y1="394.8" x2="302.1" y2="395.8" stroke="#000" stroke-width="1.25" />
<line x1="296.65" y1="397.1" x2="301.55" y2="398.1" stroke="#000" stroke-width="1.25" />
<line x1="296.1" y1="399.4" x2="301" y2="400.4" stroke="#000" stroke-width="1.25" />
<ellipse cx="296.2" cy="404.2" rx="6" ry="4.4" transform="rotate(18 296.2 404.2)" stroke="#000" stroke-width="1.38" fill="#fff" />
<path d="M301.82,402.98 L301.75,403.46 L301.55,403.91 L301.24,404.31 L300.81,404.65 L300.28,404.93 L299.66,405.13 L298.96,405.26 L298.21,405.3 L297.41,405.26 L296.59,405.15 L295.76,404.95 L294.95,404.68 L294.17,404.34 L293.45,403.95 L292.79,403.5 L292.22,403.02 L291.74,402.51 L291.38,401.98 L291.13,401.44 L291,400.92 L291,400.41 L291.12,399.94 L291.37,399.51 L291.73,399.13" stroke="#000" stroke-width="1.12" fill="none" />
<text transform="translate(313.6 403.1) scale(0.885 1)" font-size="14.9" font-weight="normal" fill="#000" stroke="#000" stroke-width="0.42" text-anchor="start" >29</text>
<line x1="301.8" y1="398.2" x2="311.2" y2="398.2" stroke="#000" stroke-width="0.98" />
<path d="M379,393.4 L374.6,404.4 C374.5,407 377,409.5 380.5,410.2 C384,410.8 387,410 388.2,407 L390.2,395.6 Z" stroke="#000" stroke-width="1.38" fill="#fff" />
<ellipse cx="384.6" cy="393.6" rx="5.6" ry="2.6" transform="rotate(12 384.6 393.6)" stroke="#000" stroke-width="1.38" fill="#fff" />
<ellipse cx="384.8" cy="393.6" rx="3.6" ry="1.4" transform="rotate(12 384.8 393.6)" stroke="#000" stroke-width="1" fill="#777" />
<path d="M387.91,406.31 L387.7,406.62 L387.39,406.9 L386.99,407.14 L386.51,407.34 L385.94,407.5 L385.31,407.6 L384.61,407.66 L383.86,407.67 L383.07,407.63 L382.26,407.54 L381.43,407.4 L380.6,407.21 L379.78,406.99 L378.98,406.72 L378.22,406.42 L377.51,406.08 L376.85,405.73 L376.26,405.35 L375.75,404.95 L375.32,404.55 L374.99,404.15 L374.75,403.75 L374.61,403.36 L374.57,402.98" stroke="#000" stroke-width="1.12" fill="none" />
<text transform="translate(344.6 404.5) scale(0.885 1)" font-size="14.9" font-weight="normal" fill="#000" stroke="#000" stroke-width="0.42" text-anchor="start" >11</text>
<line x1="359.4" y1="401.2" x2="375.6" y2="401.2" stroke="#000" stroke-width="0.98" />
<path d="M382.6,363.6 L383,369.6 C384.5,373 390,375.6 395.5,375.6 C399,375.6 401.5,375 402.4,373.5 L404.9,366.3" stroke="#000" stroke-width="1.38" fill="#fff" />
<ellipse cx="393.8" cy="362.4" rx="11.3" ry="4.7" transform="rotate(12 393.8 362.4)" stroke="#000" stroke-width="1.38" fill="#fff" />
<ellipse cx="394" cy="362.7" rx="9.6" ry="3.6" transform="rotate(12 394 362.7)" stroke="#000" stroke-width="1.12" fill="none" />
<text transform="translate(419.6 371.1) scale(0.885 1)" font-size="14.9" font-weight="normal" fill="#000" stroke="#000" stroke-width="0.42" text-anchor="start" >8</text>
<line x1="405.3" y1="366.2" x2="417.6" y2="366.2" stroke="#000" stroke-width="0.98" />
<path d="M383.2,380.8 L384,385 C385.5,387.3 390,388 393,386.6 L394,382.4" stroke="#000" stroke-width="1.38" fill="#999" />
<ellipse cx="388.6" cy="380.9" rx="5.5" ry="2.7" transform="rotate(12 388.6 380.9)" stroke="#000" stroke-width="1.5" fill="#fff" />
<ellipse cx="388.8" cy="381" rx="3.2" ry="1.4" transform="rotate(12 388.8 381)" stroke="#000" stroke-width="1" fill="#555" />
<text transform="translate(409.4 386.9) scale(0.885 1)" font-size="14.9" font-weight="normal" fill="#000" stroke="#000" stroke-width="0.42" text-anchor="start" >12</text>
<line x1="393.8" y1="383" x2="404.7" y2="383" stroke="#000" stroke-width="0.98" />
<path d="M456.6,129.2 L391.2,343 C389.8,348 398.8,351.5 408.8,346.5 L475.1,133.4 Z" stroke="#000" stroke-width="1.5" fill="#fff" />
<ellipse cx="466" cy="130.5" rx="9.5" ry="4.5" transform="rotate(12.8 466 130.5)" stroke="#000" stroke-width="1.38" fill="#fff" />
<ellipse cx="466.3" cy="130.8" rx="6.6" ry="2.8" transform="rotate(12.8 466.3 130.8)" stroke="#000" stroke-width="1" fill="#777" />
<line x1="462" y1="129.6" x2="470" y2="132" stroke="#fff" stroke-width="0.75" />
<path d="M391.2,343 C394.8,346.5 402.8,348.5 408.8,346.6 L406.6,351.4 L405.3,355.3 C399.8,356.6 391.8,354.5 388.6,350 L388.2,347 Z" stroke="#000" stroke-width="1.38" fill="#fff" />
<path d="M388.4,347.2 C389.13,347.83 390.98,350.1 392.8,351 C394.62,351.9 397.03,352.5 399.3,352.6 C401.57,352.7 405.22,351.77 406.4,351.6" stroke="#000" stroke-width="2" fill="none" />
<path d="M388.8,349.5 C389.55,350.08 391.55,352.15 393.3,353 C395.05,353.85 397.25,354.43 399.3,354.6 C401.35,354.77 404.55,354.1 405.6,354" stroke="#000" stroke-width="1" fill="none" />
<text transform="translate(467.6 245.9) scale(0.885 1)" font-size="14.9" font-weight="normal" fill="#000" stroke="#000" stroke-width="0.42" text-anchor="start" >5</text>
<line x1="442.4" y1="240.6" x2="464.7" y2="240.6" stroke="#000" stroke-width="0.98" />
<path d="M481.2,25 L482.4,29.4 L483.5,31.8 L488.2,37 C491,40 498,41.6 504.7,40.8 L508.2,38.2 L513.5,33.5 L514.1,30.2 Z" stroke="#000" stroke-width="1.38" fill="#fff" />
<path d="M512.18,35.54 L511.91,36.31 L511.41,37.03 L510.67,37.68 L509.71,38.25 L508.55,38.73 L507.21,39.11 L505.7,39.39 L504.06,39.56 L502.31,39.61 L500.48,39.55 L498.61,39.38 L496.72,39.11 L494.86,38.72 L493.04,38.24 L491.3,37.67 L489.68,37.02 L488.19,36.3 L486.87,35.52 L485.74,34.71 L484.81,33.86 L484.1,32.99 L483.63,32.13 L483.4,31.28 L483.42,30.46" stroke="#000" stroke-width="1.25" fill="none" />
<path d="M513.95,33.65 L513.65,34.52 L513.09,35.34 L512.26,36.07 L511.18,36.71 L509.87,37.26 L508.36,37.69 L506.67,38 L504.82,38.19 L502.86,38.26 L500.81,38.2 L498.7,38.01 L496.58,37.69 L494.49,37.26 L492.45,36.72 L490.5,36.08 L488.67,35.35 L487,34.54 L485.52,33.66 L484.25,32.74 L483.21,31.78 L482.41,30.81 L481.88,29.83 L481.63,28.88 L481.65,27.95" stroke="#000" stroke-width="1.25" fill="none" />
<path d="M508.6,38.02 L508.2,38.53 L507.66,38.98 L506.97,39.39 L506.17,39.74 L505.24,40.03 L504.21,40.26 L503.1,40.41 L501.91,40.5 L500.66,40.51 L499.37,40.45 L498.05,40.32 L496.73,40.12 L495.42,39.86 L494.14,39.53 L492.91,39.14 L491.74,38.7 L490.65,38.22 L489.66,37.69 L488.77,37.13 L488,36.54 L487.36,35.93 L486.86,35.32 L486.5,34.7 L486.3,34.09" stroke="#000" stroke-width="1.12" fill="none" />
<ellipse cx="497.6" cy="27.8" rx="16.8" ry="7.3" transform="rotate(10 497.6 27.8)" stroke="#000" stroke-width="1.38" fill="#fff" />
<ellipse cx="498.3" cy="26.2" rx="13.2" ry="5.6" transform="rotate(10 498.3 26.2)" stroke="#000" stroke-width="1.12" fill="none" />
<ellipse cx="498.8" cy="22.6" rx="10.2" ry="4.9" transform="rotate(10 498.8 22.6)" stroke="#000" stroke-width="1.38" fill="#fff" />
<path d="M508.85,26.37 L508.65,26.99 L508.28,27.56 L507.75,28.08 L507.07,28.55 L506.25,28.94 L505.3,29.26 L504.24,29.51 L503.09,29.66 L501.86,29.74 L500.58,29.72 L499.27,29.62 L497.95,29.43 L496.65,29.15 L495.38,28.8 L494.17,28.38 L493.04,27.89 L492.01,27.35 L491.1,26.76 L490.31,26.13 L489.68,25.48 L489.19,24.81 L488.88,24.14 L488.73,23.47 L488.75,22.83" stroke="#000" stroke-width="1.12" fill="none" />
<ellipse cx="498.6" cy="22.8" rx="7" ry="3.1" transform="rotate(10 498.6 22.8)" stroke="#000" stroke-width="1.25" fill="none" />
<path d="M492.86,22.53 L493.07,22.29 L493.36,22.08 L493.72,21.89 L494.15,21.73 L494.64,21.59 L495.19,21.5 L495.79,21.43 L496.43,21.4 L497.1,21.41 L497.8,21.45 L498.51,21.53 L499.22,21.64 L499.92,21.78 L500.61,21.95 L501.28,22.15 L501.91,22.37 L502.5,22.62 L503.04,22.88 L503.53,23.16 L503.95,23.45 L504.3,23.75 L504.57,24.05 L504.77,24.35 L504.89,24.65" stroke="#000" stroke-width="0.88" fill="none" />
<text transform="translate(451.6 32.9) scale(0.885 1)" font-size="14.9" font-weight="normal" fill="#000" stroke="#000" stroke-width="0.42" text-anchor="start" >31</text>
<line x1="468.5" y1="28.6" x2="482" y2="28.6" stroke="#000" stroke-width="0.98" />
<path d="M449.7,28.6 L432.6,28.6 L432.6,71.8 L469,71.8" stroke="#000" stroke-width="1.38" fill="none" />
<line x1="421.5" y1="54.5" x2="432.6" y2="54.5" stroke="#000" stroke-width="1.38" />
<text transform="translate(404.4 59.3) scale(0.885 1)" font-size="14.9" font-weight="normal" fill="#000" stroke="#000" stroke-width="0.42" text-anchor="start" >18</text>
<path d="M476.2,49.6 C476.13,49.08 475.57,47.42 475.8,46.5 C476.03,45.58 476.57,44.65 477.6,44.1 C478.63,43.55 480.43,43.35 482,43.2 C483.57,43.05 485.67,42.82 487,43.2 C488.33,43.58 489.07,44.77 490,45.5 C490.93,46.23 491.6,47.32 492.6,47.6 C493.6,47.88 494.77,47.18 496,47.2 C497.23,47.22 498.75,47.32 500,47.7 C501.25,48.08 502.62,48.78 503.5,49.5 C504.38,50.22 505.02,51.02 505.3,52 C505.58,52.98 505.5,54.53 505.2,55.4 C504.9,56.27 504.53,56.9 503.5,57.2 C502.47,57.5 500.58,57.37 499,57.2 C497.42,57.03 495.83,56.67 494,56.2 C492.17,55.73 489.9,55.03 488,54.4 C486.1,53.77 483.5,52.73 482.6,52.4" stroke="#000" stroke-width="3.25" fill="none" />
<path d="M476.2,49.6 C476.13,49.08 475.57,47.42 475.8,46.5 C476.03,45.58 476.57,44.65 477.6,44.1 C478.63,43.55 480.43,43.35 482,43.2 C483.57,43.05 485.67,42.82 487,43.2 C488.33,43.58 489.07,44.77 490,45.5 C490.93,46.23 491.6,47.32 492.6,47.6 C493.6,47.88 494.77,47.18 496,47.2 C497.23,47.22 498.75,47.32 500,47.7 C501.25,48.08 502.62,48.78 503.5,49.5 C504.38,50.22 505.02,51.02 505.3,52 C505.58,52.98 505.5,54.53 505.2,55.4 C504.9,56.27 504.53,56.9 503.5,57.2 C502.47,57.5 500.58,57.37 499,57.2 C497.42,57.03 495.83,56.67 494,56.2 C492.17,55.73 489.9,55.03 488,54.4 C486.1,53.77 483.5,52.73 482.6,52.4" stroke="#fff" stroke-width="1.12" fill="none" />
<text transform="translate(522 55.1) scale(0.885 1)" font-size="14.9" font-weight="normal" fill="#000" stroke="#000" stroke-width="0.42" text-anchor="start" >15</text>
<line x1="505.6" y1="50.3" x2="518.2" y2="50.3" stroke="#000" stroke-width="0.98" />
<path d="M469.3,69.6 L470.6,74.6 C474,79 482,81.8 489,81.6 C493,81.4 496,80 497,78 L498.9,72.6" stroke="#000" stroke-width="1.38" fill="#fff" />
<ellipse cx="484.1" cy="69.8" rx="15" ry="6.4" transform="rotate(12 484.1 69.8)" stroke="#000" stroke-width="1.38" fill="#fff" />
<ellipse cx="484.5" cy="70" rx="10.4" ry="4.2" transform="rotate(12 484.5 70)" stroke="#000" stroke-width="1.25" fill="none" />
<ellipse cx="484.8" cy="70.5" rx="6.6" ry="2.6" transform="rotate(12 484.8 70.5)" stroke="#000" stroke-width="1.12" fill="#888" />
<path d="M497.18,76.73 L496.49,77.17 L495.68,77.57 L494.75,77.9 L493.7,78.17 L492.56,78.37 L491.34,78.51 L490.03,78.57 L488.67,78.57 L487.26,78.5 L485.83,78.35 L484.37,78.14 L482.91,77.86 L481.47,77.52 L480.05,77.13 L478.68,76.67 L477.36,76.17 L476.11,75.62 L474.95,75.03 L473.89,74.4 L472.93,73.75 L472.09,73.08 L471.37,72.4 L470.78,71.71 L470.34,71.02" stroke="#000" stroke-width="1" fill="none" />
<ellipse cx="477.5" cy="94.2" rx="14.6" ry="6.4" transform="rotate(13 477.5 94.2)" stroke="#000" stroke-width="1.25" fill="none" />
<ellipse cx="477.5" cy="92.9" rx="14.6" ry="6.4" transform="rotate(13 477.5 92.9)" stroke="#000" stroke-width="1.38" fill="#fff" />
<ellipse cx="477.7" cy="92.6" rx="8.6" ry="3.4" transform="rotate(13 477.7 92.6)" stroke="#000" stroke-width="1.25" fill="none" />
<path d="M470.19,91.56 L470.41,91.25 L470.75,90.97 L471.2,90.74 L471.75,90.54 L472.39,90.4 L473.11,90.3 L473.91,90.25 L474.77,90.26 L475.68,90.31 L476.62,90.42 L477.59,90.57 L478.55,90.77 L479.51,91.02 L480.44,91.3 L481.33,91.62 L482.17,91.97 L482.95,92.34 L483.65,92.73 L484.26,93.14 L484.77,93.55 L485.18,93.96 L485.48,94.37 L485.66,94.77 L485.72,95.15" stroke="#000" stroke-width="1" fill="none" />
<text transform="translate(506.6 98.3) scale(0.885 1)" font-size="14.9" font-weight="normal" fill="#000" stroke="#000" stroke-width="0.42" text-anchor="start" >7</text>
<line x1="491.8" y1="93.5" x2="504.7" y2="93.5" stroke="#000" stroke-width="0.98" />
<path d="M459.9,109.4 L461.2,113.6 C464,117.5 470,119.6 476,119.4 C479.5,119.2 481.2,118.6 481.8,117.6 L483.1,112.4" stroke="#000" stroke-width="1.38" fill="#fff" />
<ellipse cx="471.5" cy="109.6" rx="11.7" ry="5" transform="rotate(12 471.5 109.6)" stroke="#000" stroke-width="1.38" fill="#fff" />
<ellipse cx="471.8" cy="109.9" rx="9" ry="3.5" transform="rotate(12 471.8 109.9)" stroke="#000" stroke-width="1.25" fill="none" />
<path d="M464.2,109.25 L464.48,108.98 L464.87,108.75 L465.34,108.55 L465.91,108.4 L466.57,108.28 L467.29,108.21 L468.08,108.17 L468.92,108.19 L469.8,108.24 L470.72,108.34 L471.65,108.48 L472.58,108.66 L473.51,108.88 L474.42,109.13 L475.29,109.41 L476.12,109.72 L476.89,110.05 L477.6,110.4 L478.23,110.76 L478.78,111.13 L479.24,111.51 L479.6,111.88 L479.85,112.25 L480,112.6" stroke="#000" stroke-width="1" fill="none" />
<line x1="466" y1="110.4" x2="476" y2="112.4" stroke="#000" stroke-width="1.25" />
<text transform="translate(499.6 116.3) scale(0.885 1)" font-size="14.9" font-weight="normal" fill="#000" stroke="#000" stroke-width="0.42" text-anchor="start" >10</text>
<line x1="483.5" y1="112.1" x2="494.7" y2="112.1" stroke="#000" stroke-width="0.98" />
<path d="M576,27 L577.5,33.5 C580,36 585.5,36.6 588.5,34.6 L589.5,28 Z" stroke="#000" stroke-width="1.25" fill="#222" />
<path d="M589.08,30.32 L588.85,30.55 L588.55,30.75 L588.17,30.93 L587.72,31.07 L587.21,31.18 L586.64,31.25 L586.02,31.29 L585.36,31.3 L584.67,31.26 L583.96,31.19 L583.23,31.09 L582.5,30.95 L581.78,30.78 L581.07,30.58 L580.39,30.35 L579.74,30.1 L579.14,29.83 L578.59,29.54 L578.1,29.24 L577.68,28.93 L577.33,28.62 L577.05,28.31 L576.86,28 L576.75,27.7" stroke="#888" stroke-width="0.62" fill="none" />
<path d="M589.08,32.52 L588.85,32.75 L588.55,32.95 L588.17,33.13 L587.72,33.27 L587.21,33.38 L586.64,33.45 L586.02,33.49 L585.36,33.5 L584.67,33.46 L583.96,33.39 L583.23,33.29 L582.5,33.15 L581.78,32.98 L581.07,32.78 L580.39,32.55 L579.74,32.3 L579.14,32.03 L578.59,31.74 L578.1,31.44 L577.68,31.13 L577.33,30.82 L577.05,30.51 L576.86,30.2 L576.75,29.9" stroke="#888" stroke-width="0.62" fill="none" />
<path d="M589.08,34.72 L588.85,34.95 L588.55,35.15 L588.17,35.33 L587.72,35.47 L587.21,35.58 L586.64,35.65 L586.02,35.69 L585.36,35.7 L584.67,35.66 L583.96,35.59 L583.23,35.49 L582.5,35.35 L581.78,35.18 L581.07,34.98 L580.39,34.75 L579.74,34.5 L579.14,34.23 L578.59,33.94 L578.1,33.64 L577.68,33.33 L577.33,33.02 L577.05,32.71 L576.86,32.4 L576.75,32.1" stroke="#888" stroke-width="0.62" fill="none" />
<ellipse cx="584.6" cy="24" rx="9.4" ry="4.6" transform="rotate(10 584.6 24)" stroke="#000" stroke-width="1.38" fill="#fff" />
<path d="M593.86,27.23 L593.67,27.81 L593.34,28.35 L592.85,28.84 L592.22,29.28 L591.46,29.65 L590.58,29.96 L589.6,30.19 L588.54,30.34 L587.4,30.41 L586.22,30.4 L585.02,30.3 L583.8,30.13 L582.6,29.88 L581.43,29.55 L580.32,29.16 L579.28,28.71 L578.33,28.2 L577.49,27.65 L576.77,27.06 L576.18,26.45 L575.74,25.83 L575.45,25.2 L575.32,24.57 L575.34,23.97" stroke="#000" stroke-width="1.25" fill="none" />
<path d="M580.6,20.4 L581,16.6 L584.5,14.8 L589.5,15.6 L591.4,18.4 L591.2,22.4 L587.6,24.4 L582.8,23.4 Z" stroke="#000" stroke-width="1.25" fill="#fff" />
<path d="M581,16.8 L584,18.6 L591.3,18.6" stroke="#000" stroke-width="1" fill="none" />
<line x1="584" y1="18.6" x2="583.6" y2="23.4" stroke="#000" stroke-width="1" />
<text transform="translate(610.2 29.5) scale(0.885 1)" font-size="14.9" font-weight="normal" fill="#000" stroke="#000" stroke-width="0.42" text-anchor="start" >16</text>
<line x1="594.4" y1="25" x2="606.5" y2="25" stroke="#000" stroke-width="0.98" />
<ellipse cx="578.8" cy="43" rx="9" ry="3.7" transform="rotate(13 578.8 43)" stroke="#000" stroke-width="1.5" fill="#fff" />
<ellipse cx="578.9" cy="43" rx="6" ry="2" transform="rotate(13 578.9 43)" stroke="#000" stroke-width="1.25" fill="none" />
<text transform="translate(602.6 47.1) scale(0.885 1)" font-size="14.9" font-weight="normal" fill="#000" stroke="#000" stroke-width="0.42" text-anchor="start" >33</text>
<line x1="587.6" y1="42.9" x2="600" y2="42.9" stroke="#000" stroke-width="0.98" />
<path d="M566.6,52.8 L539.8,147.6 C539.5,150.5 542,152.5 545.5,153.6 C549.5,154.8 552.5,154 554.6,149.6 L582.2,57 Z" stroke="#000" stroke-width="1.5" fill="#fff" />
<ellipse cx="574.6" cy="54" rx="8" ry="3.7" transform="rotate(15 574.6 54)" stroke="#000" stroke-width="1.38" fill="#fff" />
<ellipse cx="574.8" cy="54.3" rx="5" ry="2.1" transform="rotate(15 574.8 54.3)" stroke="#000" stroke-width="1.12" fill="none" />
<text transform="translate(589.2 108.5) scale(0.885 1)" font-size="14.9" font-weight="normal" fill="#000" stroke="#000" stroke-width="0.42" text-anchor="start" >3</text>
<line x1="569.4" y1="104.1" x2="587" y2="104.1" stroke="#000" stroke-width="0.98" />
<ellipse cx="542.4" cy="162.7" rx="8.2" ry="4.4" transform="rotate(10 542.4 162.7)" stroke="#000" stroke-width="1.75" fill="#fff" />
<ellipse cx="542.6" cy="162.8" rx="5.6" ry="2.6" transform="rotate(10 542.6 162.8)" stroke="#000" stroke-width="1.5" fill="#666" />
<text transform="translate(565.4 167.3) scale(0.885 1)" font-size="14.9" font-weight="normal" fill="#000" stroke="#000" stroke-width="0.42" text-anchor="start" >4</text>
<line x1="550.8" y1="163.4" x2="563.5" y2="163.4" stroke="#000" stroke-width="0.98" />
<ellipse cx="538.8" cy="175.4" rx="7.2" ry="3.1" transform="rotate(14 538.8 175.4)" stroke="#000" stroke-width="2.12" fill="none" />
<ellipse cx="537.46" cy="179.72" rx="7.2" ry="3.1" transform="rotate(14 537.46 179.72)" stroke="#000" stroke-width="2.12" fill="none" />
<ellipse cx="536.12" cy="184.03" rx="7.2" ry="3.1" transform="rotate(14 536.12 184.03)" stroke="#000" stroke-width="2.12" fill="none" />
<ellipse cx="534.77" cy="188.35" rx="7.2" ry="3.1" transform="rotate(14 534.77 188.35)" stroke="#000" stroke-width="2.12" fill="none" />
<ellipse cx="533.43" cy="192.67" rx="7.2" ry="3.1" transform="rotate(14 533.43 192.67)" stroke="#000" stroke-width="2.12" fill="none" />
<ellipse cx="532.09" cy="196.98" rx="7.2" ry="3.1" transform="rotate(14 532.09 196.98)" stroke="#000" stroke-width="2.12" fill="none" />
<ellipse cx="530.75" cy="201.3" rx="7.2" ry="3.1" transform="rotate(14 530.75 201.3)" stroke="#000" stroke-width="2.12" fill="none" />
<ellipse cx="529.41" cy="205.62" rx="7.2" ry="3.1" transform="rotate(14 529.41 205.62)" stroke="#000" stroke-width="2.12" fill="none" />
<ellipse cx="528.07" cy="209.93" rx="7.2" ry="3.1" transform="rotate(14 528.07 209.93)" stroke="#000" stroke-width="2.12" fill="none" />
<ellipse cx="526.73" cy="214.25" rx="7.2" ry="3.1" transform="rotate(14 526.73 214.25)" stroke="#000" stroke-width="2.12" fill="none" />
<ellipse cx="525.38" cy="218.57" rx="7.2" ry="3.1" transform="rotate(14 525.38 218.57)" stroke="#000" stroke-width="2.12" fill="none" />
<ellipse cx="524.04" cy="222.88" rx="7.2" ry="3.1" transform="rotate(14 524.04 222.88)" stroke="#000" stroke-width="2.12" fill="none" />
<ellipse cx="522.7" cy="227.2" rx="7.2" ry="3.1" transform="rotate(14 522.7 227.2)" stroke="#000" stroke-width="2.12" fill="none" />
<ellipse cx="521.36" cy="231.52" rx="7.2" ry="3.1" transform="rotate(14 521.36 231.52)" stroke="#000" stroke-width="2.12" fill="none" />
<ellipse cx="520.02" cy="235.83" rx="7.2" ry="3.1" transform="rotate(14 520.02 235.83)" stroke="#000" stroke-width="2.12" fill="none" />
<ellipse cx="518.67" cy="240.15" rx="7.2" ry="3.1" transform="rotate(14 518.67 240.15)" stroke="#000" stroke-width="2.12" fill="none" />
<ellipse cx="517.33" cy="244.47" rx="7.2" ry="3.1" transform="rotate(14 517.33 244.47)" stroke="#000" stroke-width="2.12" fill="none" />
<ellipse cx="515.99" cy="248.78" rx="7.2" ry="3.1" transform="rotate(14 515.99 248.78)" stroke="#000" stroke-width="2.12" fill="none" />
<ellipse cx="514.65" cy="253.1" rx="7.2" ry="3.1" transform="rotate(14 514.65 253.1)" stroke="#000" stroke-width="2.12" fill="none" />
<ellipse cx="513.31" cy="257.42" rx="7.2" ry="3.1" transform="rotate(14 513.31 257.42)" stroke="#000" stroke-width="2.12" fill="none" />
<ellipse cx="511.97" cy="261.73" rx="7.2" ry="3.1" transform="rotate(14 511.97 261.73)" stroke="#000" stroke-width="2.12" fill="none" />
<ellipse cx="510.62" cy="266.05" rx="7.2" ry="3.1" transform="rotate(14 510.62 266.05)" stroke="#000" stroke-width="2.12" fill="none" />
<ellipse cx="509.28" cy="270.37" rx="7.2" ry="3.1" transform="rotate(14 509.28 270.37)" stroke="#000" stroke-width="2.12" fill="none" />
<ellipse cx="507.94" cy="274.68" rx="7.2" ry="3.1" transform="rotate(14 507.94 274.68)" stroke="#000" stroke-width="2.12" fill="none" />
<ellipse cx="506.6" cy="279" rx="7.2" ry="3.1" transform="rotate(14 506.6 279)" stroke="#000" stroke-width="2.12" fill="#fff" />
<line x1="531.5" y1="174.8" x2="499.4" y2="278.4" stroke="#000" stroke-width="1.88" />
<line x1="546" y1="176.8" x2="513.8" y2="280.2" stroke="#000" stroke-width="1.88" />
<text transform="translate(549 232.5) scale(0.885 1)" font-size="14.9" font-weight="normal" fill="#000" stroke="#000" stroke-width="0.42" text-anchor="start" >2</text>
<line x1="531" y1="227.6" x2="546.6" y2="227.6" stroke="#000" stroke-width="0.98" />
<ellipse cx="502.2" cy="292.4" rx="8.9" ry="4.5" transform="rotate(12 502.2 292.4)" stroke="#000" stroke-width="1.88" fill="#fff" />
<ellipse cx="502.5" cy="292.3" rx="6" ry="2.5" transform="rotate(12 502.5 292.3)" stroke="#000" stroke-width="1.5" fill="#888" />
<text transform="translate(527.2 296.9) scale(0.885 1)" font-size="14.9" font-weight="normal" fill="#000" stroke="#000" stroke-width="0.42" text-anchor="start" >13</text>
<line x1="511.4" y1="292.1" x2="523.5" y2="292.1" stroke="#000" stroke-width="0.98" />
<path d="M490,313.6 L474.1,365.3 L472.4,371.2 L471.2,381.8 L478.2,383 L481.2,373.5 L483.5,368.8 L500.6,315.3 Z" stroke="#000" stroke-width="1.38" fill="#fff" />
<line x1="472.4" y1="371.2" x2="481.2" y2="373.5" stroke="#000" stroke-width="1.12" />
<ellipse cx="478.3" cy="359.6" rx="1.5" ry="1.7" transform="rotate(0 478.3 359.6)" stroke="#000" stroke-width="0.75" fill="#000" />
<ellipse cx="481.6" cy="368.6" rx="1.5" ry="1.7" transform="rotate(0 481.6 368.6)" stroke="#000" stroke-width="0.75" fill="#000" />
<path d="M488.3,305 L489.2,311.6 C491,314.6 498,316.4 503.6,314.4 L505.9,307.4 Z" stroke="#000" stroke-width="1.38" fill="#fff" />
<path d="M505.21,309.69 L504.97,310.09 L504.6,310.45 L504.11,310.76 L503.52,311.03 L502.82,311.24 L502.03,311.4 L501.16,311.51 L500.23,311.55 L499.25,311.53 L498.23,311.45 L497.19,311.31 L496.15,311.12 L495.12,310.87 L494.12,310.58 L493.15,310.23 L492.25,309.85 L491.42,309.43 L490.67,308.99 L490.01,308.52 L489.46,308.04 L489.02,307.55 L488.71,307.07 L488.52,306.59 L488.45,306.13" stroke="#000" stroke-width="1.25" fill="none" />
<path d="M505.21,311.99 L504.97,312.39 L504.6,312.75 L504.11,313.06 L503.52,313.33 L502.82,313.54 L502.03,313.7 L501.16,313.81 L500.23,313.85 L499.25,313.83 L498.23,313.75 L497.19,313.61 L496.15,313.42 L495.12,313.17 L494.12,312.88 L493.15,312.53 L492.25,312.15 L491.42,311.73 L490.67,311.29 L490.01,310.82 L489.46,310.34 L489.02,309.85 L488.71,309.37 L488.52,308.89 L488.45,308.43" stroke="#000" stroke-width="1.25" fill="none" />
<path d="M505.21,314.29 L504.97,314.69 L504.6,315.05 L504.11,315.36 L503.52,315.63 L502.82,315.84 L502.03,316 L501.16,316.11 L500.23,316.15 L499.25,316.13 L498.23,316.05 L497.19,315.91 L496.15,315.72 L495.12,315.47 L494.12,315.18 L493.15,314.83 L492.25,314.45 L491.42,314.03 L490.67,313.59 L490.01,313.12 L489.46,312.64 L489.02,312.15 L488.71,311.67 L488.52,311.19 L488.45,310.73" stroke="#000" stroke-width="1.25" fill="none" />
<ellipse cx="497" cy="305.4" rx="8.8" ry="3.8" transform="rotate(12 497 305.4)" stroke="#000" stroke-width="1.38" fill="#fff" />
<ellipse cx="497.2" cy="305.6" rx="6.2" ry="2.4" transform="rotate(12 497.2 305.6)" stroke="#000" stroke-width="1.12" fill="none" />
<line x1="493" y1="304.8" x2="501.5" y2="306.6" stroke="#000" stroke-width="1" />
<ellipse cx="473.5" cy="385.6" rx="6" ry="3.7" transform="rotate(15 473.5 385.6)" stroke="#000" stroke-width="1.38" fill="#fff" />
<path d="M471.2,381.8 C473,383.4 476,383.8 478.2,383" stroke="#000" stroke-width="1.12" fill="none" />
<text transform="translate(511.4 350.5) scale(0.885 1)" font-size="14.9" font-weight="normal" fill="#000" stroke="#000" stroke-width="0.42" text-anchor="start" >14</text>
<line x1="491.8" y1="346.1" x2="507.6" y2="346.1" stroke="#000" stroke-width="0.98" />
<ellipse cx="470.6" cy="394.4" rx="8" ry="3.3" transform="rotate(15 470.6 394.4)" stroke="#000" stroke-width="2" fill="none" />
<ellipse cx="469.5" cy="397.35" rx="8" ry="3.3" transform="rotate(15 469.5 397.35)" stroke="#000" stroke-width="2" fill="none" />
<ellipse cx="468.4" cy="400.3" rx="8" ry="3.3" transform="rotate(15 468.4 400.3)" stroke="#000" stroke-width="2" fill="none" />
<ellipse cx="467.3" cy="403.25" rx="8" ry="3.3" transform="rotate(15 467.3 403.25)" stroke="#000" stroke-width="2" fill="none" />
<ellipse cx="466.2" cy="406.2" rx="8" ry="3.3" transform="rotate(15 466.2 406.2)" stroke="#000" stroke-width="2" fill="none" />
<text transform="translate(493.6 405.1) scale(0.885 1)" font-size="14.9" font-weight="normal" fill="#000" stroke="#000" stroke-width="0.42" text-anchor="start" >6</text>
<line x1="477.4" y1="400.8" x2="493.5" y2="400.8" stroke="#000" stroke-width="0.98" />
<text transform="translate(589.6 333.7) scale(0.885 1)" font-size="14.9" font-weight="normal" fill="#000" stroke="#000" stroke-width="0.42" text-anchor="start" >19</text>
<line x1="561.2" y1="328.5" x2="587.6" y2="328.5" stroke="#000" stroke-width="0.98" />
<ellipse cx="720.3" cy="30.6" rx="14.6" ry="6.5" transform="rotate(11.6 720.3 30.6)" stroke="#000" stroke-width="1.12" fill="none" />
<ellipse cx="720.3" cy="30.6" rx="13" ry="5.1" transform="rotate(11.6 720.3 30.6)" stroke="#000" stroke-width="1.12" fill="none" />
<text transform="translate(748.4 35.1) scale(0.885 1)" font-size="14.9" font-weight="normal" fill="#000" stroke="#000" stroke-width="0.42" text-anchor="start" >32</text>
<line x1="734.9" y1="30.6" x2="747" y2="30.6" stroke="#000" stroke-width="0.98" />
<path d="M700.4,44.5 L688.6,75.5 L677.6,110 L671.2,131.8 L671.8,138.2 C669,143 668,147.5 670.6,150.6 C674,154.5 683,157.8 691.2,158.8 C696,159.3 699.5,158 701.8,153.5 L715.3,110 L724.1,75 L728.7,52 Z" stroke="#000" stroke-width="1.5" fill="#fff" />
<ellipse cx="714.7" cy="47.1" rx="14.5" ry="6.3" transform="rotate(14 714.7 47.1)" stroke="#000" stroke-width="1.38" fill="#fff" />
<ellipse cx="715.3" cy="48.2" rx="12" ry="4.7" transform="rotate(14 715.3 48.2)" stroke="#000" stroke-width="1.25" fill="none" />
<path d="M725.01,53.28 L724.39,53.56 L723.62,53.77 L722.72,53.91 L721.71,53.99 L720.6,53.99 L719.42,53.92 L718.17,53.78 L716.88,53.57 L715.59,53.3 L714.29,52.97 L713.03,52.58 L711.82,52.15 L710.68,51.67 L709.63,51.17 L708.69,50.64 L707.87,50.09 L707.2,49.54 L706.67,49 L706.31,48.47 L706.11,47.96 L706.08,47.48 L706.21,47.05 L706.52,46.66 L706.99,46.32" stroke="#000" stroke-width="1" fill="none" />
<text transform="translate(743.6 89.1) scale(0.885 1)" font-size="14.9" font-weight="normal" fill="#000" stroke="#000" stroke-width="0.42" text-anchor="start" >24</text>
<line x1="722.6" y1="84.4" x2="741.8" y2="84.4" stroke="#000" stroke-width="0.98" />
<path d="M661.2,130.8 C661.35,129.87 662.53,129.1 663.5,128.8 C664.47,128.5 665.95,128.63 667,129 C668.05,129.37 669.4,130.07 669.8,131 C670.2,131.93 670.03,133.8 669.4,134.6 C668.77,135.4 667.13,135.83 666,135.8 C664.87,135.77 663.4,135.23 662.6,134.4 C661.8,133.57 661.05,131.73 661.2,130.8 Z" stroke="#000" stroke-width="1.25" fill="#fff" />
<ellipse cx="665.2" cy="132.2" rx="2.6" ry="1.6" transform="rotate(20 665.2 132.2)" stroke="#000" stroke-width="1" fill="none" />
<g transform="translate(667.7 84.6)"><path d="M-2.8,4.2 L3,6 L-0.6,13.6 L-6.8,11.4 Z" stroke="#000" stroke-width="1.12" fill="#111" /><line x1="-3.6" y1="8" x2="1" y2="9.6" stroke="#999" stroke-width="0.62" /><line x1="-4.8" y1="10.4" x2="-0.2" y2="12" stroke="#999" stroke-width="0.62" /><ellipse cx="0.1" cy="2.6" rx="6" ry="3.3" transform="rotate(16 0.1 2.6)" stroke="#000" stroke-width="1.88" fill="#fff" /><path d="M-3.6,-2.6 L-1.2,-5.2 L3.8,-4.9 L5.9,-2.2 L5.6,1.6 L2.2,3.2 L-2.6,1.8 Z" stroke="#000" stroke-width="1.88" fill="#fff" /><path d="M-3.4,-2.4 L0.4,-1 L5.6,-2.2" stroke="#000" stroke-width="1.12" fill="none" /><line x1="0.4" y1="-1" x2="0.2" y2="2.6" stroke="#000" stroke-width="1.12" /></g>
<text transform="translate(659.8 63.3) scale(0.885 1)" font-size="14.9" font-weight="normal" fill="#000" stroke="#000" stroke-width="0.42" text-anchor="start" >27</text>
<line x1="667.8" y1="67" x2="667.8" y2="78.6" stroke="#000" stroke-width="0.98" />
<path d="M663,99.1 L660.6,109.7 L671.8,114.9 L666.8,131" stroke="#000" stroke-width="1.12" fill="none" />
<path d="M680.6,117.6 L707.6,127.6" stroke="#000" stroke-width="1.12" fill="none" stroke-dasharray="4.6 3.2" stroke-linecap="butt"/>
<path d="M680.4,118.6 L676.6,131.2" stroke="#000" stroke-width="1.12" fill="none" stroke-dasharray="4.6 2.8" stroke-linecap="butt"/>
<line x1="675.2" y1="131" x2="678.8" y2="131.6" stroke="#000" stroke-width="1.12" />
<path d="M707.6,127.6 L732.4,137.6 L736.6,126.5" stroke="#000" stroke-width="1.12" fill="none" />
<g transform="translate(740.2 114.8)"><path d="M-2.6,4.6 L2.2,6 L-3.2,13.4 L-5.6,12.6 Z" stroke="#000" stroke-width="1.12" fill="#222" /><line x1="-3.2" y1="7.4" x2="0.6" y2="8.4" stroke="#aaa" stroke-width="0.62" /><line x1="-4.2" y1="9.8" x2="-1" y2="10.8" stroke="#aaa" stroke-width="0.62" /><ellipse cx="-0.3" cy="2.4" rx="6.7" ry="3.1" transform="rotate(12 -0.3 2.4)" stroke="#000" stroke-width="1.88" fill="#fff" /><line x1="-5.6" y1="1.6" x2="5.4" y2="3.6" stroke="#000" stroke-width="1" /><path d="M-3.2,-2 L-1.4,-5 L3.6,-4.6 L5.4,-1.8 L4.8,1.6 L1,2.4 L-2.8,1 Z" stroke="#000" stroke-width="1.75" fill="#fff" /><path d="M-3,-1.8 L0.6,-0.8 L5.2,-1.8" stroke="#000" stroke-width="1.12" fill="none" /><line x1="0.6" y1="-0.8" x2="0.4" y2="2.2" stroke="#000" stroke-width="1.12" /></g>
<text transform="translate(760.6 123.1) scale(0.885 1)" font-size="14.9" font-weight="normal" fill="#000" stroke="#000" stroke-width="0.42" text-anchor="start" >30</text>
<line x1="746.4" y1="117.6" x2="758.8" y2="117.6" stroke="#000" stroke-width="0.98" />
<g transform="translate(675.3 174.4)"><path d="M15.93,11.48 L15.8,12.36 L15.36,13.19 L14.6,13.92 L13.56,14.56 L12.24,15.09 L10.67,15.5 L8.88,15.78 L6.91,15.93 L4.79,15.95 L2.56,15.82 L0.27,15.57 L-2.04,15.18 L-4.33,14.67 L-6.55,14.05 L-8.66,13.33 L-10.62,12.53 L-12.39,11.65 L-13.94,10.72 L-15.24,9.75 L-16.27,8.76 L-17,7.78 L-17.42,6.81 L-17.53,5.89 L-17.32,5.01" stroke="#000" stroke-width="1.38" fill="none" /><line x1="-16.8" y1="-2.4" x2="-17.3" y2="6.2" stroke="#000" stroke-width="1.38" /><line x1="16.8" y1="3.2" x2="15.9" y2="12" stroke="#000" stroke-width="1.38" /><ellipse cx="0" cy="0" rx="17" ry="6.5" transform="rotate(11 0 0)" stroke="#000" stroke-width="1.38" fill="none" /><ellipse cx="0.6" cy="0.2" rx="10.4" ry="4.4" transform="rotate(11 0.6 0.2)" stroke="#000" stroke-width="1.25" fill="none" /><line x1="-16.11" y1="-0.87" x2="-16.91" y2="7.93" stroke="#000" stroke-width="1.12" /><line x1="-13.58" y1="1.62" x2="-14.38" y2="10.42" stroke="#000" stroke-width="1.12" /><line x1="-5.52" y1="5.32" x2="-6.32" y2="14.12" stroke="#000" stroke-width="1.12" /><line x1="0.22" y1="6.64" x2="-0.58" y2="15.44" stroke="#000" stroke-width="1.12" /><line x1="10.92" y1="6.81" x2="10.12" y2="15.61" stroke="#000" stroke-width="1.12" /><line x1="14.15" y1="5.86" x2="13.35" y2="14.66" stroke="#000" stroke-width="1.12" /><line x1="-8.71" y1="-2.84" x2="-9.11" y2="0.46" stroke="#000" stroke-width="1.25" /><line x1="-6.03" y1="-3.96" x2="-6.43" y2="-0.66" stroke="#000" stroke-width="1.25" /><line x1="-2.1" y1="-4.24" x2="-2.5" y2="-0.94" stroke="#000" stroke-width="1.25" /><line x1="2.33" y1="-3.63" x2="1.93" y2="-0.33" stroke="#000" stroke-width="1.25" /><line x1="6.43" y1="-2.25" x2="6.03" y2="1.05" stroke="#000" stroke-width="1.25" /><line x1="9.44" y1="-0.35" x2="9.04" y2="2.95" stroke="#000" stroke-width="1.25" /><path d="M-8.95,0.91 L-8.61,0.56 L-8.14,0.25 L-7.56,-0.02 L-6.86,-0.24 L-6.07,-0.41 L-5.18,-0.53 L-4.22,-0.6 L-3.19,-0.61 L-2.11,-0.57 L-1,-0.48 L0.14,-0.33 L1.29,-0.13 L2.42,0.11 L3.53,0.4 L4.6,0.73 L5.62,1.1 L6.57,1.5 L7.44,1.92 L8.21,2.36 L8.88,2.82 L9.44,3.29 L9.89,3.75 L10.2,4.21 L10.39,4.67" stroke="#000" stroke-width="1" fill="none" /></g>
<text transform="translate(706.6 182.7) scale(0.885 1)" font-size="14.9" font-weight="normal" fill="#000" stroke="#000" stroke-width="0.42" text-anchor="start" >22</text>
<line x1="693.5" y1="178.5" x2="705.3" y2="178.5" stroke="#000" stroke-width="0.98" />
<path d="M646.2,208.5 L618.8,300.6 C619.5,305 626,309.5 638.8,312.6 C645,314 650,314 652.5,312.6 L655.3,307.6 L683.8,214.4 Z" stroke="#000" stroke-width="1.5" fill="#fff" />
<path d="M640.9,198.6 C640.07,197.57 640.85,197.13 641.2,196.6 C641.55,196.07 641.48,195.27 643,195.4 C644.52,195.53 648.7,197.47 650.3,197.4 C651.9,197.33 651.65,195.2 652.6,195 C653.55,194.8 654.77,195.93 656,196.2 C657.23,196.47 658,196.7 660,196.6 C662,196.5 665.33,195.27 668,195.6 C670.67,195.93 674.03,197.37 676,198.6 C677.97,199.83 679.13,201.5 679.8,203 C680.47,204.5 679.13,206.38 680,207.6 C680.87,208.82 684.1,209.47 685,210.3 C685.9,211.13 685.6,211.98 685.4,212.6 C685.2,213.22 685.23,213.67 683.8,214 C682.37,214.33 680.13,214.8 676.8,214.6 C673.47,214.4 667.53,213.87 663.8,212.8 C660.07,211.73 657.33,209.87 654.4,208.2 C651.47,206.53 648.45,204.4 646.2,202.8 C643.95,201.2 641.73,199.63 640.9,198.6 Z" stroke="#000" stroke-width="1.38" fill="#fff" />
<path d="M641.5,199.6 C642.42,200.27 644.75,202.1 647,203.6 C649.25,205.1 652.17,207.2 655,208.6 C657.83,210 660.37,211.2 664,212 C667.63,212.8 673.55,213.27 676.8,213.4 C680.05,213.53 682.38,212.9 683.5,212.8" stroke="#000" stroke-width="1" fill="none" />
<ellipse cx="669.1" cy="202.3" rx="10.8" ry="5.4" transform="rotate(14 669.1 202.3)" stroke="#000" stroke-width="1.38" fill="#fff" />
<ellipse cx="669.2" cy="202" rx="7.8" ry="3.7" transform="rotate(14 669.2 202)" stroke="#000" stroke-width="1.25" fill="none" />
<path d="M662.84,201.23 L663.1,200.94 L663.45,200.69 L663.88,200.48 L664.39,200.3 L664.96,200.17 L665.59,200.08 L666.27,200.04 L667,200.04 L667.76,200.09 L668.54,200.18 L669.33,200.31 L670.13,200.49 L670.91,200.71 L671.67,200.96 L672.41,201.24 L673.1,201.56 L673.74,201.9 L674.32,202.26 L674.84,202.63 L675.28,203.02 L675.64,203.41 L675.92,203.8 L676.11,204.19 L676.21,204.56" stroke="#000" stroke-width="0.88" fill="none" />
<path d="M647,208.4 C647.52,207.57 648.85,207.42 649.5,207.6 C650.15,207.78 650.75,208.5 650.9,209.5 C651.05,210.5 650.88,212.75 650.4,213.6 C649.92,214.45 648.67,214.77 648,214.6 C647.33,214.43 646.57,213.63 646.4,212.6 C646.23,211.57 646.48,209.23 647,208.4 Z" stroke="#000" stroke-width="1.12" fill="#fff" />
<text transform="translate(692 259.1) scale(0.885 1)" font-size="14.9" font-weight="normal" fill="#000" stroke="#000" stroke-width="0.42" text-anchor="start" >25</text>
<line x1="672.4" y1="254.2" x2="690" y2="254.2" stroke="#000" stroke-width="0.98" />
<defs><pattern id="dots" width="4.243" height="4.243" patternUnits="userSpaceOnUse" patternTransform="translate(403.36 269.42)"><circle cx="0" cy="0" r="0.8" fill="#0c0c0c"/><circle cx="4.243" cy="0" r="0.8" fill="#0c0c0c"/><circle cx="0" cy="4.243" r="0.8" fill="#0c0c0c"/><circle cx="4.243" cy="4.243" r="0.8" fill="#0c0c0c"/><circle cx="2.1215" cy="2.1215" r="0.8" fill="#0c0c0c"/></pattern><mask id="wm" maskUnits="userSpaceOnUse" x="360" y="100" width="260" height="200"><path d="M583.81,122.01 Q483.47,162.48 386.68,210.84 L425.05,257" stroke="#fff" stroke-width="8.8" fill="none" stroke-linejoin="round" stroke-linecap="butt"/><path d="M577.94,134.97 Q488.29,171.13 401.81,214.33 L437.27,257" stroke="#fff" stroke-width="5.4" fill="none" stroke-linejoin="round" stroke-linecap="butt"/><path d="M572.07,146.06 Q491.71,178.47 414.2,217.19 L447.29,257" stroke="#fff" stroke-width="5.4" fill="none" stroke-linejoin="round" stroke-linecap="butt"/><path d="M566.2,157.15 Q495.14,185.81 426.59,220.05 L457.3,257" stroke="#fff" stroke-width="5.4" fill="none" stroke-linejoin="round" stroke-linecap="butt"/><path d="M560.33,168.24 Q498.56,193.15 438.98,222.92 L467.31,257" stroke="#fff" stroke-width="5.4" fill="none" stroke-linejoin="round" stroke-linecap="butt"/><path d="M554.46,179.33 Q501.99,200.49 451.37,225.78 L477.32,257" stroke="#fff" stroke-width="5.4" fill="none" stroke-linejoin="round" stroke-linecap="butt"/><path d="M548.59,190.42 Q505.41,207.83 463.76,228.64 L487.34,257" stroke="#fff" stroke-width="5.4" fill="none" stroke-linejoin="round" stroke-linecap="butt"/><path d="M542.72,201.51 Q508.84,215.17 476.16,231.5 L497.35,257" stroke="#fff" stroke-width="5.4" fill="none" stroke-linejoin="round" stroke-linecap="butt"/><path d="M536.85,212.6 Q512.26,222.52 488.55,234.36 L507.36,257" stroke="#fff" stroke-width="5.4" fill="none" stroke-linejoin="round" stroke-linecap="butt"/><path d="M530.98,223.69 Q515.69,229.86 500.94,237.23 L517.37,257" stroke="#fff" stroke-width="5.4" fill="none" stroke-linejoin="round" stroke-linecap="butt"/><path d="M525.11,234.78 Q519.12,237.2 513.33,240.09 L521.57,250" stroke="#fff" stroke-width="5.4" fill="none" stroke-linejoin="round" stroke-linecap="butt"/><path d="M381.2,201.6 L582.6,117.6 L585.5,124 L383,215 L379.4,212.5 Z" fill="#fff" stroke="none"/><text x="379" y="282.6" textLength="34.5" lengthAdjust="spacingAndGlyphs" font-family="Liberation Serif" font-weight="bold" font-size="33.6" fill="#fff" stroke="#fff" stroke-width="2.2">H</text><text x="415.4" y="282.6" textLength="40.5" lengthAdjust="spacingAndGlyphs" font-family="Liberation Serif" font-weight="bold" font-size="33.6" fill="#fff" stroke="#fff" stroke-width="2.2">O</text><text x="457.8" y="282.6" textLength="39" lengthAdjust="spacingAndGlyphs" font-family="Liberation Serif" font-weight="bold" font-size="33.6" fill="#fff" stroke="#fff" stroke-width="2.2">N</text><text x="498.8" y="282.6" textLength="39" lengthAdjust="spacingAndGlyphs" font-family="Liberation Serif" font-weight="bold" font-size="33.6" fill="#fff" stroke="#fff" stroke-width="2.2">D</text><text x="538.8" y="282.6" textLength="48.5" lengthAdjust="spacingAndGlyphs" font-family="Liberation Serif" font-weight="bold" font-size="33.6" fill="#fff" stroke="#fff" stroke-width="2.2">A</text></mask></defs>
<rect x="360" y="100" width="260" height="200" fill="url(#dots)" mask="url(#wm)" stroke="none"/>
</svg>
</body></html>
